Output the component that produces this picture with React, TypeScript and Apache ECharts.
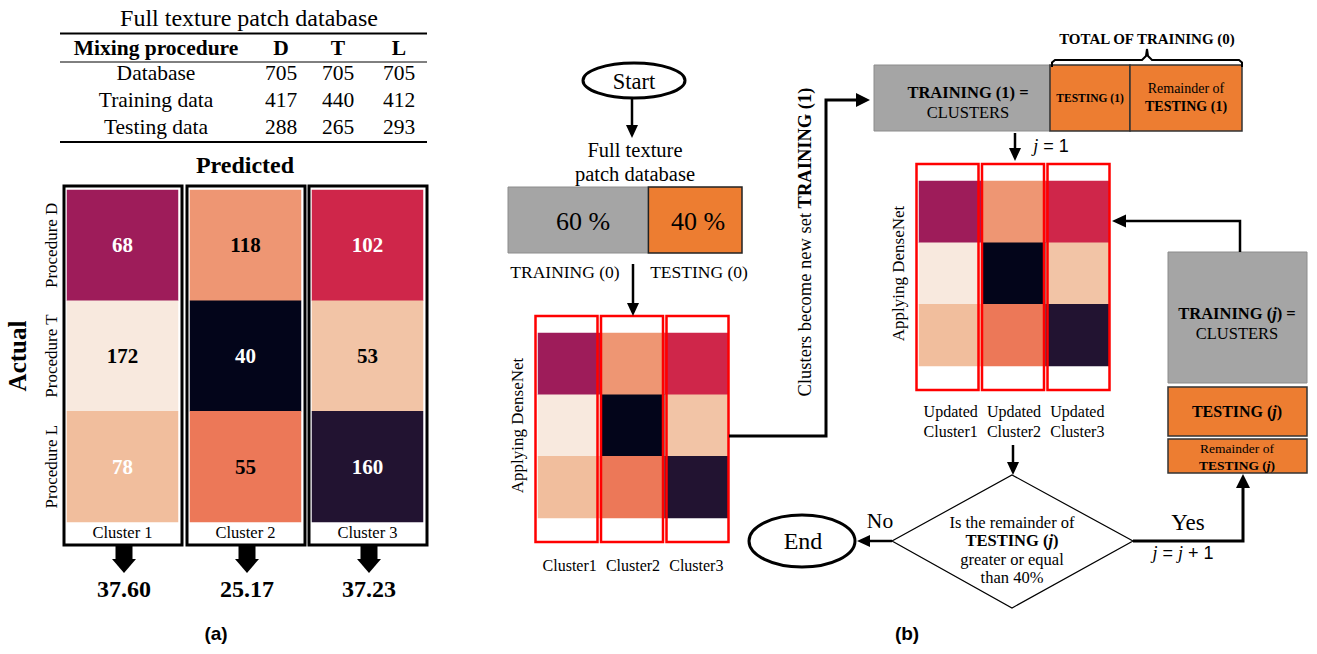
import React, { useEffect, useRef } from "react";
import * as echarts from "echarts";

// ---------- data ----------
const tableTitle = "Full texture patch database";
const tableColumns = ["Mixing procedure", "D", "T", "L"];
const tableRowNames = ["Database", "Training data", "Testing data"];
const procD = [705, 417, 288];
const procT = [705, 440, 265];
const procL = [705, 412, 293];

const actualLabels = ["Procedure D", "Procedure T", "Procedure L"];
const clusterLabels = ["Cluster 1", "Cluster 2", "Cluster 3"];
// rows = actual procedure, columns = predicted cluster
const confusionMatrix = [
  [68, 118, 102],
  [172, 40, 53],
  [78, 55, 160],
];
const clusterScores = ["37.60", "25.17", "37.23"];

const splitPercents = [60, 40];
const splitNames = ["TRAINING (0)", "TESTING (0)"];
const smallClusterLabels = ["Cluster1", "Cluster2", "Cluster3"];
const updatedClusterLabels = ["Updated\nCluster1", "Updated\nCluster2", "Updated\nCluster3"];

// ---------- styles ----------
const cellColors = [
  ["#9e1c5a", "#ee9673", "#cf264a"],
  ["#f8e9de", "#03051a", "#f2c4a6"],
  ["#f1be9d", "#ec7858", "#221331"],
];
const valueColors = [
  ["#ffffff", "#000000", "#ffffff"],
  ["#000000", "#ffffff", "#000000"],
  ["#ffffff", "#000000", "#ffffff"],
];

const SERIF = '"Liberation Serif", "Times New Roman", serif';
const SANS = '"Liberation Sans", Arial, sans-serif';
const GRAY = "#a5a5a5";
const ORANGE = "#ed7d31";

function txt(x: number, y: number, text: string, size: number, o: any = {}) {
  const style: any = {
    text,
    fill: o.color || "#000",
    fontSize: size,
    fontFamily: o.family || SERIF,
    fontWeight: o.bold ? "bold" : "normal",
    fontStyle: o.italic ? "italic" : "normal",
    align: "center",
    verticalAlign: "middle",
    textAlign: "center",
    textVerticalAlign: "middle",
  };
  if (o.rich) style.rich = o.rich;
  return { type: "text", x, y, rotation: o.rot || 0, style, z: 120, silent: true };
}
function rich(size: number) {
  return {
    b: { fontSize: size, fontFamily: SERIF, fontWeight: "bold", fill: "#000" },
    bi: { fontSize: size, fontFamily: SERIF, fontWeight: "bold", fontStyle: "italic", fill: "#000" },
    i: { fontSize: size, fontFamily: SERIF, fontStyle: "italic", fill: "#000" },
    n: { fontSize: size, fontFamily: SANS, fill: "#000" },
    r: { fontSize: size, fontFamily: SERIF, fill: "#000" },
  };
}
function rect(x: number, y: number, w: number, h: number, style: any) {
  return { type: "rect", shape: { x, y, width: w, height: h }, style, z: 100, silent: true };
}
function pline(points: number[][], lw = 2.5) {
  return { type: "polyline", shape: { points }, style: { stroke: "#000", lineWidth: lw }, z: 110, silent: true };
}
function head(x: number, y: number, dir: string, len = 13, half = 6) {
  let pts: number[][] = [];
  if (dir === "down") pts = [[x - half, y - len], [x + half, y - len], [x, y]];
  if (dir === "up") pts = [[x - half, y + len], [x + half, y + len], [x, y]];
  if (dir === "left") pts = [[x + len, y - half], [x + len, y + half], [x, y]];
  if (dir === "right") pts = [[x - len, y - half], [x - len, y + half], [x, y]];
  return { type: "polygon", shape: { points: pts }, style: { fill: "#000" }, z: 111, silent: true };
}

export default function App() {
  const ref = useRef<HTMLDivElement>(null);
  useEffect(() => {
    if (!ref.current) return;
    const chart = echarts.init(ref.current, null, { renderer: "svg" });

    // ----- layout (a) -----
    const mainLefts = [67, 190, 312];
    const mainW = 111;
    const mainTop = 190;
    const mainH = 332;
    // ----- layout (b) -----
    const small = { left: 538, top: 333, width: 190, height: 185 };
    const upd = { left: 919, top: 181, width: 190, height: 185 };

    const grids: any[] = mainLefts.map((l) => ({ left: l, top: mainTop, width: mainW, height: mainH, outerBoundsMode: "none" }));
    grids.push({ ...small, outerBoundsMode: "none" });
    grids.push({ ...upd, outerBoundsMode: "none" });

    const hideAxis = { axisLine: { show: false }, axisTick: { show: false }, splitLine: { show: false }, splitArea: { show: false } };
    const serifLabel = (size: number, extra: any = {}) => ({ fontSize: size, fontFamily: SERIF, color: "#000", interval: 0, ...extra });

    const xAxes: any[] = mainLefts.map((_, i) => ({
      type: "category",
      gridIndex: i,
      data: [clusterLabels[i]],
      ...hideAxis,
      axisLabel: serifLabel(16.5, { margin: 2 }),
    }));
    xAxes.push({ type: "category", gridIndex: 3, data: smallClusterLabels, ...hideAxis, axisLabel: serifLabel(16, { margin: 39 }) });
    xAxes.push({ type: "category", gridIndex: 4, data: updatedClusterLabels, ...hideAxis, axisLabel: serifLabel(16, { margin: 35, lineHeight: 20 }) });

    const yAxes: any[] = mainLefts.map((_, i) => ({
      type: "category",
      gridIndex: i,
      data: actualLabels,
      inverse: true,
      ...hideAxis,
      axisLabel: serifLabel(17, { show: i === 0, rotate: 90, margin: 7 }),
      name: i === 0 ? "Actual" : "",
      nameLocation: "middle",
      nameRotate: 90,
      nameGap: 37,
      nameTextStyle: { fontSize: 25, fontWeight: "bold", fontFamily: SERIF, color: "#000" },
    }));
    [3, 4].forEach((g) =>
      yAxes.push({
        type: "category",
        gridIndex: g,
        data: actualLabels,
        inverse: true,
        ...hideAxis,
        axisLabel: { show: false },
        name: "Applying DenseNet",
        nameLocation: "middle",
        nameRotate: 90,
        nameGap: 12,
        nameTextStyle: { fontSize: 17, fontFamily: SERIF, color: "#000" },
      })
    );

    const series: any[] = mainLefts.map((_, c) => ({
      type: "heatmap",
      xAxisIndex: c,
      yAxisIndex: c,
      emphasis: { disabled: true },
      itemStyle: { borderWidth: 0 },
      label: {
        show: true,
        fontSize: 21,
        fontWeight: "bold",
        fontFamily: SERIF,
        formatter: (p: any) => String(p.value[2]),
      },
      data: actualLabels.map((_, r) => ({
        value: [0, r, confusionMatrix[r][c]],
        label: { color: valueColors[r][c] },
      })),
    }));
    [3, 4].forEach((g) => {
      const d: any[] = [];
      confusionMatrix.forEach((row, r) => row.forEach((v, c) => d.push([c, r, v])));
      series.push({
        type: "heatmap",
        xAxisIndex: g,
        yAxisIndex: g,
        emphasis: { disabled: true },
        itemStyle: { borderWidth: 0 },
        label: { show: false },
        data: d,
      });
    });

    const pieces: any[] = [];
    confusionMatrix.forEach((row, r) => row.forEach((v, c) => pieces.push({ value: v, color: cellColors[r][c] })));

    const G: any[] = [];
    // ---------- (a) table ----------
    const colX = [156, 281, 338, 399];
    G.push(txt(249, 18, tableTitle, 24));
    G.push(pline([[60, 33.5], [427, 33.5]], 2));
    tableColumns.forEach((h, i) => G.push(txt(colX[i], 48, h, 21.5, { bold: true })));
    G.push(pline([[60, 62], [427, 62]], 1));
    const rowY = [73, 100, 127];
    tableRowNames.forEach((n, r) => {
      G.push(txt(colX[0], rowY[r], n, 21.5));
      G.push(txt(colX[1], rowY[r], String(procD[r]), 21.5));
      G.push(txt(colX[2], rowY[r], String(procT[r]), 21.5));
      G.push(txt(colX[3], rowY[r], String(procL[r]), 21.5));
    });
    G.push(pline([[60, 142], [427, 142]], 2));

    // ---------- (a) confusion boxes ----------
    G.push(txt(245, 165, "Predicted", 24, { bold: true }));
    mainLefts.forEach((l, i) => {
      const bx = l - 3;
      const bw = mainW + 7;
      G.push(rect(bx, 186, bw, 359, { fill: "none", stroke: "#000", lineWidth: 3 }));
      const cx = bx + bw / 2 + 1;
      G.push(rect(cx - 8.5, 546, 17, 14, { fill: "#000" }));
      G.push({ type: "polygon", shape: { points: [[cx - 12, 559], [cx + 12, 559], [cx, 573]] }, style: { fill: "#000" }, z: 100, silent: true });
      G.push(txt(cx, 589, clusterScores[i], 24, { bold: true }));
    });
    G.push(txt(216, 633, "(a)", 19, { bold: true, family: SANS }));

    // ---------- (b) flowchart ----------
    G.push({ type: "ellipse", shape: { cx: 634, cy: 80.5, rx: 51, ry: 17.5 }, style: { fill: "#fff", stroke: "#000", lineWidth: 3 }, z: 100, silent: true });
    G.push(txt(634, 81, "Start", 22.5));
    G.push(pline([[632, 98], [632, 128]]));
    G.push(head(632, 138, "down"));
    G.push(txt(635, 150, "Full texture", 20.5));
    G.push(txt(635, 174, "patch database", 20.5));
    const barX = 508;
    const barW = 234;
    const wTrain = (barW * splitPercents[0]) / 100;
    const wTest = (barW * splitPercents[1]) / 100;
    G.push(rect(barX, 187, wTrain, 66, { fill: GRAY, stroke: "#8c8c8c", lineWidth: 1 }));
    G.push(rect(barX + wTrain, 187, wTest, 66, { fill: ORANGE, stroke: "#222", lineWidth: 1.5 }));
    G.push(txt(barX + wTrain / 2 + 5, 221, splitPercents[0] + " %", 26));
    G.push(txt(barX + wTrain + wTest / 2 + 3, 221, splitPercents[1] + " %", 26));
    G.push(txt(565, 272, splitNames[0], 17.5));
    G.push(txt(699, 272, splitNames[1], 17.5));
    G.push(pline([[633, 264], [633, 306]]));
    G.push(head(633, 316, "down"));

    // red boxes on small heatmaps
    [small, upd].forEach((g) => {
      for (let k = 0; k < 3; k++) {
        G.push(rect(g.left - 2.5 + k * 65.5, g.top - 17, 62, g.height + 41, { fill: "none", stroke: "#ff0000", lineWidth: 2.5 }));
      }
    });

    // connector small heatmap -> TRAINING (1)
    G.push(pline([[729, 436], [826, 436], [826, 100], [860, 100]], 3));
    G.push(head(870, 100, "right", 14, 7));
    G.push(txt(805, 242, "Clusters become new set {b|TRAINING (1)}", 18.5, { rot: Math.PI / 2, rich: rich(18.5) }));

    // TRAINING (1) boxes
    G.push(rect(874, 65, 176, 66, { fill: GRAY, stroke: "#8c8c8c", lineWidth: 1 }));
    G.push(rect(1050, 65, 80, 66, { fill: ORANGE, stroke: "#333", lineWidth: 1.5 }));
    G.push(rect(1130, 65, 112, 66, { fill: ORANGE, stroke: "#333", lineWidth: 1.5 }));
    G.push(txt(968, 92, "TRAINING (1) =", 16.5, { bold: true }));
    G.push(txt(968, 112, "CLUSTERS", 16.5));
    G.push(txt(1090, 98, "TESTING (1)", 11.5, { bold: true }));
    G.push(txt(1186, 88, "Remainder of", 14));
    G.push(txt(1186, 106, "TESTING (1)", 14, { bold: true }));
    // brace
    G.push(pline([[1052, 67], [1052, 62.5], [1055, 60], [1142, 60], [1146, 56], [1147, 49]], 2));
    G.push(pline([[1242, 67], [1242, 62.5], [1239, 60], [1152, 60], [1148, 56], [1147, 49]], 2));
    G.push(txt(1147, 39, "TOTAL OF TRAINING (0)", 15, { bold: true }));

    G.push(pline([[1015, 133], [1015, 151]]));
    G.push(head(1015, 161, "down"));
    G.push(txt(1051, 146, "{i|j}{n| = 1}", 18, { rich: rich(18) }));

    // right column boxes
    G.push(rect(1168, 252, 139, 131, { fill: GRAY, stroke: "#8c8c8c", lineWidth: 1 }));
    G.push(rect(1168, 387, 139, 49, { fill: ORANGE, stroke: "#333", lineWidth: 1.5 }));
    G.push(rect(1168, 439, 139, 34, { fill: ORANGE, stroke: "#333", lineWidth: 1.5 }));
    G.push(txt(1237, 313, "{b|TRAINING (}{bi|j}{b|) =}", 16.5, { rich: rich(16.5) }));
    G.push(txt(1237, 333, "CLUSTERS", 16.5));
    G.push(txt(1237, 411, "{b|TESTING (}{bi|j}{b|)}", 16, { rich: rich(16) }));
    G.push(txt(1237, 448, "Remainder of", 13.5));
    G.push(txt(1237, 465, "{b|TESTING (}{bi|j}{b|)}", 13.5, { rich: rich(13.5) }));

    G.push(pline([[1240, 252], [1240, 221], [1123, 221]], 2.5));
    G.push(head(1112, 221, "left", 14, 6.5));

    // decision
    G.push(pline([[1013, 445], [1013, 464]]));
    G.push(head(1013, 475, "down"));
    G.push({ type: "polygon", shape: { points: [[1012, 475], [1133, 541], [1012, 608], [892, 541]] }, style: { fill: "#fff", stroke: "#000", lineWidth: 1.2 }, z: 100, silent: true });
    G.push(txt(1012, 522, "Is the remainder of", 16.5));
    G.push(txt(1012, 540, "{b|TESTING (}{bi|j}{b|)}", 16.5, { rich: rich(16.5) }));
    G.push(txt(1012, 559, "greater or equal", 16.5));
    G.push(txt(1012, 577, "than 40%", 16.5));

    G.push(pline([[892, 541], [868, 541]]));
    G.push(head(857, 541, "left", 13, 6));
    G.push({ type: "ellipse", shape: { cx: 802, cy: 541, rx: 53, ry: 26 }, style: { fill: "#fff", stroke: "#000", lineWidth: 3 }, z: 100, silent: true });
    G.push(txt(803, 541, "End", 24));
    G.push(txt(880, 521, "No", 21.5));

    G.push(pline([[1133, 541], [1243, 541], [1243, 486]], 3));
    G.push(head(1243, 474, "up", 14, 7));
    G.push(txt(1188, 522, "Yes", 23));
    G.push(txt(1183, 553, "{i|j}{n| = }{i|j}{n| + 1}", 18, { rich: rich(18) }));

    G.push(txt(907, 633, "(b)", 19, { bold: true, family: SANS }));

    chart.setOption({
      animation: false,
      backgroundColor: "#fff",
      grid: grids,
      xAxis: xAxes,
      yAxis: yAxes,
      visualMap: {
        type: "piecewise",
        show: false,
        dimension: 2,
        seriesIndex: [0, 1, 2, 3, 4],
        pieces,
      },
      series,
      graphic: { elements: G },
    });
    return () => chart.dispose();
  }, []);
  return <div ref={ref} style={{ position: "absolute", left: 0, top: 0, width: 1317, height: 654 }} />;
}
